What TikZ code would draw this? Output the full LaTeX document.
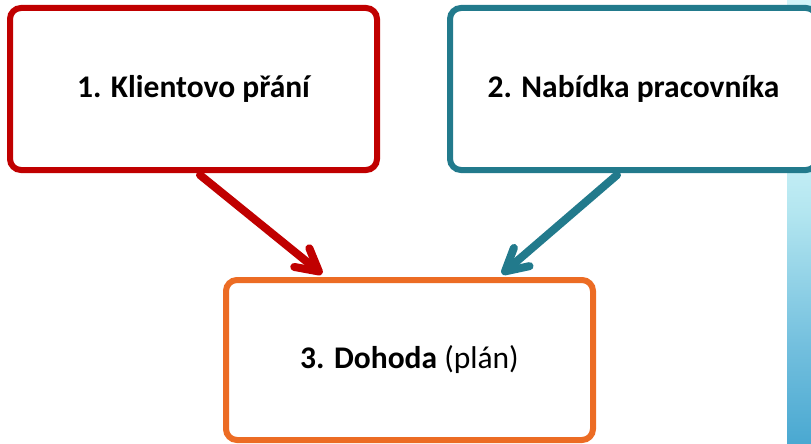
\documentclass[tikz,border=0pt]{standalone}
\usepackage{fontspec}
\setmainfont{Carlito}
\usetikzlibrary{arrows.meta}
\definecolor{bred}{RGB}{192,0,0}
\definecolor{bteal}{RGB}{34,122,140}
\definecolor{borange}{RGB}{236,108,36}
\pgfdeclareverticalshading{stripshade}{100bp}{%
  rgb(0bp)=(0.29,0.66,0.82);
  rgb(25bp)=(0.29,0.66,0.82);
  rgb(36bp)=(0.45,0.75,0.87);
  rgb(51bp)=(0.70,0.90,0.94);
  rgb(59bp)=(0.80,0.95,0.97);
  rgb(75bp)=(0.82,0.96,0.98);
  rgb(100bp)=(0.82,0.96,0.98)}
\tikzset{
  box/.style={draw, line width=6pt, rounded corners=11pt, fill=white,
    minimum width=367pt, minimum height=162pt, inner sep=0pt, font=\fontsize{31.5}{36}\selectfont},
  conn/.style={line width=8pt, line cap=round,
    -{Straight Barb[length=22pt,width=24pt,line cap=round,line join=round]}},
}
\begin{document}
\begin{tikzpicture}[x=1pt,y=-1pt]
\useasboundingbox (0,0) rectangle (811,444);
\clip (0,0) rectangle (811,444);
\shade[shading=stripshade] (787,0) rectangle (811,444);
\node[box, draw=bred] (b1) at (193.5,89) {\bfseries 1. Klientovo přání};
\node[box, draw=bteal] (b2) at (633.5,89) {\bfseries 2. Nabídka pracovníka};
\node[box, draw=borange, minimum height=160pt] (b3) at (409.5,360) {\textbf{3. Dohoda} (plán)};
\draw[conn, bred] ([xshift=6.5pt,yshift=-2pt]b1.south) -- ([xshift=-87.5pt,yshift=3pt]b3.north);
\draw[conn, bteal] ([xshift=-16.5pt,yshift=-2pt]b2.south) -- ([xshift=92.5pt,yshift=3pt]b3.north);
\end{tikzpicture}
\end{document}
